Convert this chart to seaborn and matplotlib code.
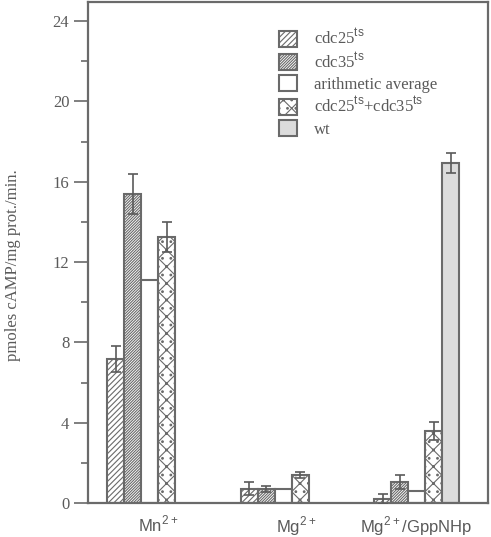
import numpy as np
import pandas as pd
import matplotlib.pyplot as plt
import seaborn as sns
from matplotlib.patches import Patch

# data
conditions = ['Mn$^{2+}$', 'Mg$^{2+}$', 'Mg$^{2+}$/GppNHp']
strains = ['cdc25', 'cdc35', 'average', 'cdc25+cdc35', 'wt']
legend_labels = [r'cdc25$^{\mathsf{ts}}$', r'cdc35$^{\mathsf{ts}}$', 'arithmetic average',
                 r'cdc25$^{\mathsf{ts}}$+cdc35$^{\mathsf{ts}}$', 'wt']

cdc25_vals = [7.15, 0.71, 0.21]
cdc25_err = [0.65, 0.33, 0.25]
cdc35_vals = [15.4, 0.71, 1.04]
cdc35_err = [1.0, 0.15, 0.33]
avg_vals = [11.1, 0.71, 0.6]
avg_err = [np.nan, np.nan, np.nan]
combo_vals = [13.25, 1.39, 3.6]
combo_err = [0.75, 0.15, 0.45]
wt_vals = [np.nan, np.nan, 16.95]
wt_err = [np.nan, np.nan, 0.5]

label_offsets = [0.065, 0.095, 0.0]

all_vals = [cdc25_vals, cdc35_vals, avg_vals, combo_vals, wt_vals]
all_err = [cdc25_err, cdc35_err, avg_err, combo_err, wt_err]

rows = []
for s, vals in zip(strains, all_vals):
    for c, v in zip(conditions, vals):
        rows.append({'condition': c, 'strain': s, 'value': v})
df = pd.DataFrame(rows).dropna()

sns.set_style('white')
plt.rcParams['font.family'] = ['Liberation Serif', 'DejaVu Serif']
plt.rcParams['mathtext.fontset'] = 'custom'
plt.rcParams['mathtext.rm'] = 'Liberation Sans'
plt.rcParams['mathtext.sf'] = 'Liberation Sans'
plt.rcParams['hatch.color'] = '#6a6a6a'
plt.rcParams['hatch.linewidth'] = 0.8

grey = '#5a5a5a'
edge = '#6a6a6a'
fills = ['white', 'white', 'white', 'white', '#dcdcdc']
hatches = ['//////', '////////////', '', '//\\\\..', '']
palette = dict(zip(strains, fills))

fig = plt.figure(figsize=(4.91, 5.37), dpi=100)
ax = fig.add_axes([88 / 491, 34 / 537, 400 / 491, 501 / 537])

sns.barplot(data=df, x='condition', y='value', hue='strain', order=conditions,
            hue_order=strains, palette=palette, width=0.637, errorbar=None,
            edgecolor=edge, linewidth=1.5, legend=False, ax=ax)

# hatches and error bars by slot
for p in ax.patches:
    w = p.get_width()
    xc = p.get_x() + w / 2
    g = int(round(xc))
    slot = int(round((xc - g) / w + 2))
    p.set_hatch(hatches[slot])
    p.set_facecolor(fills[slot])
    e = all_err[slot][g]
    if not np.isnan(e):
        ax.errorbar(xc, p.get_height(), yerr=e, color=grey, capsize=3.5,
                    elinewidth=1.2, capthick=1.2, zorder=5)

ax.set_xlim(-0.461, 2.535)
ax.set_ylim(0, 24.95)
ax.set_yticks(np.arange(0, 25, 4))
ax.set_yticks(np.arange(2, 24, 4), minor=True)
ax.tick_params(axis='y', which='major', length=10, width=1.2, color=edge,
               labelsize=12, labelcolor=grey, direction='out', left=True)
ax.tick_params(axis='y', which='minor', length=5, width=1.2, color=edge,
               direction='out', left=True)
ax.set_xticks(np.arange(len(conditions)) + np.array(label_offsets))
ax.set_xticklabels(conditions, family=['Liberation Sans', 'DejaVu Sans'], fontsize=12)
ax.tick_params(axis='x', length=0, pad=8, labelcolor=grey)
ax.set_xlabel('')
ax.set_ylabel('pmoles cAMP/mg prot./min.', fontsize=12, color=grey)
ax.yaxis.set_label_coords(-0.168, 0.475)

for sp in ax.spines.values():
    sp.set_color(edge)
    sp.set_linewidth(1.6)

handles = [Patch(facecolor=f, edgecolor=edge, hatch=h, linewidth=1.5)
           for f, h in zip(fills, hatches)]
ax.legend(handles, legend_labels, loc='upper left', bbox_to_anchor=(0.44, 0.978),
          frameon=False, fontsize=12, handlelength=1.1, handleheight=1.1,
          handletextpad=1.0, labelspacing=0.2, labelcolor=grey)

fig.savefig('out.png', dpi=100)
